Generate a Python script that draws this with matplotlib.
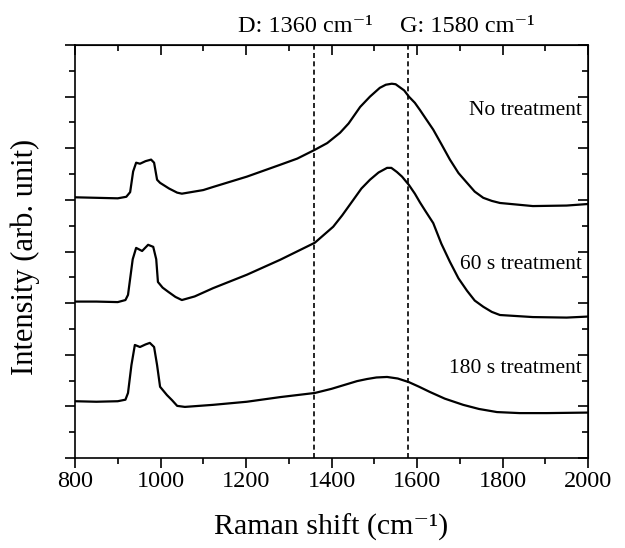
import matplotlib
matplotlib.use('Agg')
import matplotlib.pyplot as plt
from matplotlib.ticker import MultipleLocator

plt.rcParams['font.family'] = ['Liberation Serif', 'DejaVu Serif']

# Raman spectra (arbitrary units, stacked)
shift_none = [800, 850, 900, 920, 929, 936, 943, 952, 965, 978, 985, 992, 999, 1020, 1039, 1050,
              1100, 1123, 1202, 1280, 1320, 1361, 1390, 1420, 1440, 1467, 1490, 1513, 1527, 1541,
              1550, 1560, 1570, 1581, 1595, 1607, 1620, 1638, 1657, 1677, 1697, 1717, 1735, 1755,
              1775, 1794, 1871, 1950, 2000]
int_none = [5.05, 5.04, 5.03, 5.06, 5.15, 5.55, 5.72, 5.70, 5.75, 5.78, 5.72, 5.39, 5.33, 5.22, 5.14, 5.12,
            5.19, 5.25, 5.45, 5.68, 5.80, 5.97, 6.10, 6.30, 6.48, 6.80, 7.00, 7.17, 7.23, 7.25,
            7.24, 7.18, 7.12, 7.00, 6.88, 6.74, 6.58, 6.36, 6.08, 5.78, 5.52, 5.33, 5.16, 5.04,
            4.98, 4.94, 4.88, 4.89, 4.92]

shift_60 = [800, 850, 900, 918, 924, 935, 943, 957, 971, 983, 990, 994, 1005, 1018, 1035, 1050,
            1080, 1123, 1202, 1280, 1361, 1404, 1425, 1451, 1470, 1490, 1510, 1530, 1540, 1553,
            1565, 1581, 1595, 1607, 1620, 1638, 1657, 1677, 1697, 1717, 1735, 1755, 1775, 1794,
            1871, 1950, 2000]
int_60 = [3.03, 3.03, 3.02, 3.06, 3.16, 3.85, 4.07, 4.01, 4.13, 4.09, 3.85, 3.41, 3.30, 3.22, 3.12, 3.06,
          3.13, 3.29, 3.55, 3.84, 4.17, 4.48, 4.70, 5.00, 5.22, 5.39, 5.53, 5.62, 5.62, 5.54,
          5.45, 5.29, 5.12, 4.95, 4.78, 4.55, 4.15, 3.80, 3.48, 3.24, 3.05, 2.93, 2.83, 2.77,
          2.73, 2.72, 2.74]

shift_180 = [800, 850, 900, 918, 924, 932, 940, 952, 965, 975, 985, 992, 999, 1015, 1027, 1039,
             1057, 1123, 1202, 1280, 1361, 1400, 1436, 1460, 1483, 1505, 1530, 1555, 1581, 1605,
             1630, 1665, 1708, 1745, 1787, 1840, 1904, 2000]
int_180 = [1.10, 1.09, 1.10, 1.13, 1.26, 1.80, 2.19, 2.15, 2.20, 2.23, 2.15, 1.80, 1.38, 1.22, 1.12, 1.01,
           0.99, 1.03, 1.09, 1.18, 1.26, 1.34, 1.43, 1.49, 1.53, 1.56, 1.57, 1.54, 1.47, 1.38,
           1.28, 1.15, 1.03, 0.95, 0.89, 0.87, 0.87, 0.88]

band_pos = [1360, 1580]
band_labels = ['D: 1360 cm\u207b\u00b9', 'G: 1580 cm\u207b\u00b9']
band_label_x = [1338, 1717]

curve_labels = ['No treatment', '60 s treatment', '180 s treatment']
label_y = [6.74, 3.74, 1.74]

fig = plt.figure(figsize=(6.25, 5.48), dpi=100)
ax = fig.add_axes([0.12, 0.1642, 0.8208, 0.7537])

for xs, ys in [(shift_none, int_none), (shift_60, int_60), (shift_180, int_180)]:
    ax.plot(xs, ys, color='black', lw=1.6)

for xp in band_pos:
    ax.axvline(xp, color='black', lw=1.2, ls=(0, (3, 2)))

for xl, txt in zip(band_label_x, band_labels):
    ax.text(xl, 1.045, txt, transform=ax.get_xaxis_transform(), ha='center', va='center',
            fontsize=17.5, clip_on=False)

for yl, txt in zip(label_y, curve_labels):
    ax.text(1985, yl, txt, ha='right', va='center', fontsize=15.5)

ax.set_xlim(800, 2000)
ax.set_ylim(0, 8)
ax.xaxis.set_major_locator(MultipleLocator(200))
ax.xaxis.set_minor_locator(MultipleLocator(100))
ax.yaxis.set_major_locator(MultipleLocator(1))
ax.yaxis.set_minor_locator(MultipleLocator(0.5))
ax.set_yticklabels([])
ax.tick_params(which='major', direction='out', length=7, width=1.2, labelsize=17.5, pad=2)
ax.tick_params(which='minor', direction='out', length=4, width=1.2)
for s in ax.spines.values():
    s.set_linewidth(1.2)

# mirrored ticks on top/right pointing inwards
top = ax.secondary_xaxis('top')
top.xaxis.set_major_locator(MultipleLocator(200))
top.xaxis.set_minor_locator(MultipleLocator(100))
top.tick_params(which='major', direction='in', length=7, width=1.2, labeltop=False)
top.tick_params(which='minor', direction='in', length=4, width=1.2)
right = ax.secondary_yaxis('right')
right.yaxis.set_major_locator(MultipleLocator(1))
right.yaxis.set_minor_locator(MultipleLocator(0.5))
right.tick_params(which='major', direction='in', length=7, width=1.2, labelright=False)
right.tick_params(which='minor', direction='in', length=4, width=1.2)

ax.set_xlabel('Raman shift (cm\u207b\u00b9)', fontsize=21.5)
ax.xaxis.set_label_coords(0.5, -0.135)
ax.set_ylabel('Intensity (arb. unit)', fontsize=22)
ax.yaxis.set_label_coords(-0.068, 0.487)

fig.savefig('out.png', dpi=100)
